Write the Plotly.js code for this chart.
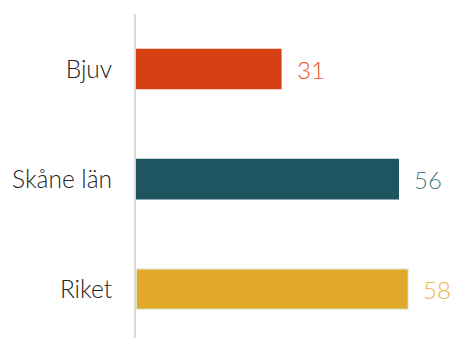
<!DOCTYPE html>
<html>
<head>
<meta charset="utf-8">
<script src="https://cdn.plot.ly/plotly-3.0.1.min.js"></script>
<style>html,body{margin:0;padding:0;background:#fff;}#chart{width:453px;height:338px;}</style>
</head>
<body>
<div id="chart"></div>
<script>
const categories = ["Bjuv", "Skåne län", "Riket"];
const values = [31, 56, 58];
const barColors = ["#D63F11", "#1F5560", "#E2A829"];
const labelColors = ["#E8562A", "#4E7B80", "#EDB445"];
const borderColors = ["rgba(0,0,0,0)", "rgba(0,0,0,0)", "#E4F2EE"];

const trace = {
  type: "bar",
  orientation: "h",
  y: categories,
  x: values,
  marker: { color: barColors, line: { color: borderColors, width: 1.5 } },
  hoverinfo: "none",
  width: 0.37
};

const annotations = categories.map((c, i) => ({
  x: values[i], y: c, xref: "x", yref: "y",
  text: String(values[i]), showarrow: false,
  xanchor: "left", yanchor: "middle", xshift: 13,
  font: { family: "Lato, sans-serif", size: 24, color: labelColors[i], weight: 300 }
}));

const layout = {
  width: 453, height: 338,
  margin: { l: 136, r: 0, t: 14, b: 0 },
  paper_bgcolor: "#fff", plot_bgcolor: "#fff",
  showlegend: false,
  xaxis: { range: [0, 67.5], visible: false, fixedrange: true },
  yaxis: {
    type: "category",
    range: [2.445, -0.5],
    showline: true, linecolor: "#D9D9D9", linewidth: 2,
    showgrid: false, zeroline: false, ticks: "",
    ticklabelstandoff: 17,
    tickfont: { family: "Lato, sans-serif", size: 24.5, color: "#222", weight: 300 }
  },
  annotations: annotations
};

Plotly.newPlot("chart", [trace], layout, { displayModeBar: false, staticPlot: true });
</script>
</body>
</html>
